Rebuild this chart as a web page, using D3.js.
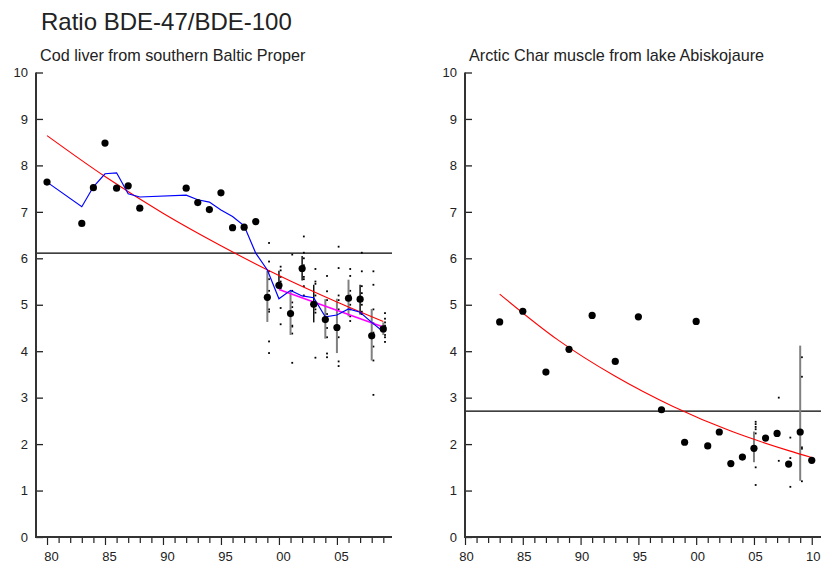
<!DOCTYPE html>
<html>
<head>
<meta charset="utf-8">
<script src="https://cdn.jsdelivr.net/npm/d3@7"></script>
<style>
  html, body { margin: 0; padding: 0; background: #fff; }
  svg { display: block; font-family: "Liberation Sans", Arial, Helvetica, sans-serif; }
</style>
</head>
<body>
<svg id="chart" width="824" height="563"></svg>
<script>
// ---- Cod liver, southern Baltic Proper ----
const codYears = [1980, 1983, 1984, 1985, 1986, 1987, 1988,
  1992, 1993, 1994, 1995, 1996, 1997, 1998,
  1999, 2000, 2001, 2002, 2003, 2004, 2005, 2006, 2007, 2008, 2009];
const codMeans = [7.64, 6.75, 7.52, 8.48, 7.51, 7.56, 7.08,
  7.51, 7.20, 7.05, 7.41, 6.66, 6.67, 6.79,
  5.16, 5.42, 4.81, 5.78, 5.01, 4.68, 4.51, 5.14, 5.12, 4.33, 4.48];
const codSmooth = [7.64, 7.11, 7.54, 7.82, 7.84, 7.39, 7.32,
  7.36, 7.26, 7.21, 7.04, 6.90, 6.70, 6.11,
  5.75, 5.13, 5.31, 5.19, 5.15, 4.74, 4.78, 4.91, 4.84, 4.62, 4.42];
const codIntervalYears = [1999, 2000, 2001, 2002, 2003, 2004, 2005, 2006, 2007, 2008, 2009];
const codIntervalLow  = [4.63, 5.34, 4.35, 5.52, 4.62, 4.27, 3.96, 4.75, 4.79, 3.80, 4.35];
const codIntervalHigh = [5.73, 5.73, 5.30, 6.05, 5.43, 5.12, 5.13, 5.54, 5.43, 4.91, 4.62];
const codBlackIntervals = [2000, 2002, 2003, 2007];
const codSamples = {
  1999: [6.33, 5.93, 5.72, 5.55, 5.30, 5.20, 4.90, 4.85, 4.21, 3.96],
  2000: [5.82, 5.74, 5.60, 5.50, 5.35, 4.93, 4.58],
  2001: [6.08, 5.30, 5.05, 4.95, 4.55, 4.53, 4.38, 3.75],
  2002: [6.47, 6.12, 6.00, 5.85, 5.75, 5.60, 5.55, 5.40, 5.20],
  2003: [5.77, 5.50, 5.45, 5.20, 5.00, 4.90, 4.83, 3.86],
  2004: [5.62, 5.29, 5.10, 4.80, 4.70, 4.50, 4.30, 3.95, 3.87],
  2005: [6.25, 5.79, 5.20, 5.10, 4.90, 4.50, 4.30, 3.78, 3.68],
  2006: [5.77, 5.62, 5.30, 5.20, 5.00, 4.90, 4.75, 4.65],
  2007: [6.12, 5.72, 5.40, 5.25, 5.10, 5.00, 4.85, 4.80],
  2008: [5.72, 5.43, 4.90, 4.60, 4.40, 4.10, 3.80, 3.06],
  2009: [4.82, 4.70, 4.62, 4.55, 4.45, 4.35, 4.30, 4.20]
};
const codTrendYears  = [1980, 1985, 1990, 1995, 2000, 2005, 2009];
const codTrendValues = [8.64, 7.76, 6.97, 6.27, 5.63, 5.06, 4.64];
const codRecentTrendYears  = [2000, 2009];
const codRecentTrendValues = [5.33, 4.52];
const codReference = 6.11;

// ---- Arctic char muscle, lake Abiskojaure ----
const charYears = [1983, 1985, 1987, 1989, 1991, 1993, 1995, 1997, 1999, 2000,
  2001, 2002, 2003, 2004, 2005, 2006, 2007, 2008, 2009, 2010];
const charMeans = [4.63, 4.86, 3.55, 4.04, 4.77, 3.78, 4.74, 2.74, 2.04, 4.64,
  1.96, 2.26, 1.58, 1.72, 1.91, 2.13, 2.23, 1.57, 2.26, 1.65];
const charIntervalYears = [2005, 2009];
const charIntervalLow  = [1.61, 1.21];
const charIntervalHigh = [2.27, 4.12];
const charSamples = {
  2005: [2.48, 2.43, 2.37, 2.32, 2.23, 1.93, 1.50, 1.12],
  2007: [3.00, 1.64],
  2008: [2.14, 1.70, 1.08],
  2009: [3.87, 3.45, 1.93, 1.90, 1.20]
};
const charTrendYears  = [1983, 1988, 1993, 1998, 2003, 2008, 2010];
const charTrendValues = [5.23, 4.25, 3.46, 2.81, 2.28, 1.86, 1.71];
const charReference = 2.71;

const yTicks = [0, 1, 2, 3, 4, 5, 6, 7, 8, 9, 10];

const svg = d3.select("#chart");
const ink = "#222";

svg.append("text")
  .attr("x", 41).attr("y", 30)
  .attr("font-size", 24).attr("fill", ink)
  .text("Ratio BDE-47/BDE-100");

const y = d3.scaleLinear().domain([0, 10]).range([537, 72.5]);

function panel(opt) {
  const x = d3.scaleLinear().domain(opt.xDomain).range(opt.xRange);
  const g = svg.append("g");
  const x0 = opt.xRange[0], x1 = opt.xRange[1];

  g.append("text")
    .attr("x", x0 + 4).attr("y", 61)
    .attr("font-size", 16.2).attr("fill", ink)
    .text(opt.title);

  // reference level
  g.append("line")
    .attr("x1", x0).attr("x2", x1)
    .attr("y1", y(opt.reference)).attr("y2", y(opt.reference))
    .attr("stroke", "#000").attr("stroke-width", 1.2);

  // individual samples
  const samples = [];
  Object.keys(opt.samples).forEach(k => {
    opt.samples[k].forEach(v => samples.push({ year: +k, value: v }));
  });
  g.append("g").selectAll("rect").data(samples).join("rect")
    .attr("x", d => x(d.year) + 0.8)
    .attr("y", d => y(d.value) - 0.9)
    .attr("width", 1.8).attr("height", 1.8)
    .attr("fill", "#000");

  // yearly intervals
  const intervals = opt.intervalYears.map((yr, i) => ({
    year: yr, lo: opt.intervalLow[i], hi: opt.intervalHigh[i],
    dark: (opt.darkIntervals || []).includes(yr)
  }));
  g.append("g").selectAll("line").data(intervals).join("line")
    .attr("x1", d => x(d.year)).attr("x2", d => x(d.year))
    .attr("y1", d => y(d.hi)).attr("y2", d => y(d.lo))
    .attr("stroke", d => d.dark ? "#111" : "#808080")
    .attr("stroke-width", d => d.dark ? 1.5 : 2);

  const line = d3.line().x(d => x(d[0])).y(d => y(d[1]));

  // long-term log-linear trend
  g.append("path")
    .datum(opt.trendYears.map((yr, i) => [yr, opt.trendValues[i]]))
    .attr("d", line.curve(d3.curveMonotoneX))
    .attr("fill", "none").attr("stroke", "#ff0000").attr("stroke-width", 1.1);

  if (opt.recentYears) {
    g.append("path")
      .datum(opt.recentYears.map((yr, i) => [yr, opt.recentValues[i]]))
      .attr("d", d3.line().x(d => x(d[0])).y(d => y(d[1])))
      .attr("fill", "none").attr("stroke", "#ff00ff").attr("stroke-width", 1.6);
  }

  if (opt.smooth) {
    g.append("path")
      .datum(opt.years.map((yr, i) => [yr, opt.smooth[i]]))
      .attr("d", d3.line().x(d => x(d[0])).y(d => y(d[1])))
      .attr("fill", "none").attr("stroke", "#0000ff").attr("stroke-width", 1.2);
  }

  // yearly means
  g.append("g").selectAll("circle")
    .data(opt.years.map((yr, i) => [yr, opt.means[i]]))
    .join("circle")
    .attr("cx", d => x(d[0])).attr("cy", d => y(d[1]))
    .attr("r", 3.6).attr("fill", "#000");

  // y axis
  const yAxis = g.append("g")
    .attr("transform", `translate(${x0},0)`)
    .call(d3.axisLeft(y).tickValues(yTicks).tickSize(-7).tickPadding(8));
  yAxis.select(".domain").remove();
  yAxis.selectAll(".tick line").attr("stroke", ink).attr("stroke-width", 1.3);
  yAxis.selectAll(".tick text")
    .attr("font-size", 13).attr("fill", ink)
    .attr("font-family", "Liberation Sans, Arial, sans-serif");
  g.append("line")
    .attr("x1", x0).attr("x2", x0).attr("y1", y(10)).attr("y2", y(0) + 1)
    .attr("stroke", "#333").attr("stroke-width", 2);

  // x axis: a tick per year, labels every fifth year
  const tickYears = d3.range(opt.firstTick, opt.lastTick + 1);
  const xAxis = g.append("g")
    .attr("transform", `translate(0,${y(0)})`)
    .call(d3.axisBottom(x).tickValues(tickYears).tickSize(7).tickPadding(8)
      .tickFormat(d => d % 5 === 0 ? String(d % 100).padStart(2, "0") : ""));
  xAxis.select(".domain").remove();
  xAxis.selectAll(".tick line")
    .attr("stroke", ink).attr("stroke-width", 1.2)
    .attr("y2", d => d % 5 === 0 ? 8 : 6);
  xAxis.selectAll(".tick text")
    .attr("font-size", 13).attr("fill", ink)
    .attr("dx", opt.labelShift)
    .attr("font-family", "Liberation Sans, Arial, sans-serif");
  g.append("line")
    .attr("x1", x0 - 1).attr("x2", x1).attr("y1", y(0)).attr("y2", y(0))
    .attr("stroke", "#333").attr("stroke-width", 2);
}

panel({
  title: "Cod liver from southern Baltic Proper",
  xDomain: [1979.05, 2009.75], xRange: [36, 392],
  firstTick: 1980, lastTick: 2009, labelShift: 4,
  years: codYears, means: codMeans, smooth: codSmooth,
  intervalYears: codIntervalYears, intervalLow: codIntervalLow, intervalHigh: codIntervalHigh,
  darkIntervals: codBlackIntervals,
  samples: codSamples,
  trendYears: codTrendYears, trendValues: codTrendValues,
  recentYears: codRecentTrendYears, recentValues: codRecentTrendValues,
  reference: codReference
});

panel({
  title: "Arctic Char muscle from lake Abiskojaure",
  xDomain: [1980, 2010.8], xRange: [465, 821],
  firstTick: 1980, lastTick: 2010, labelShift: 1,
  years: charYears, means: charMeans,
  intervalYears: charIntervalYears, intervalLow: charIntervalLow, intervalHigh: charIntervalHigh,
  samples: charSamples,
  trendYears: charTrendYears, trendValues: charTrendValues,
  reference: charReference
});
</script>
</body>
</html>
